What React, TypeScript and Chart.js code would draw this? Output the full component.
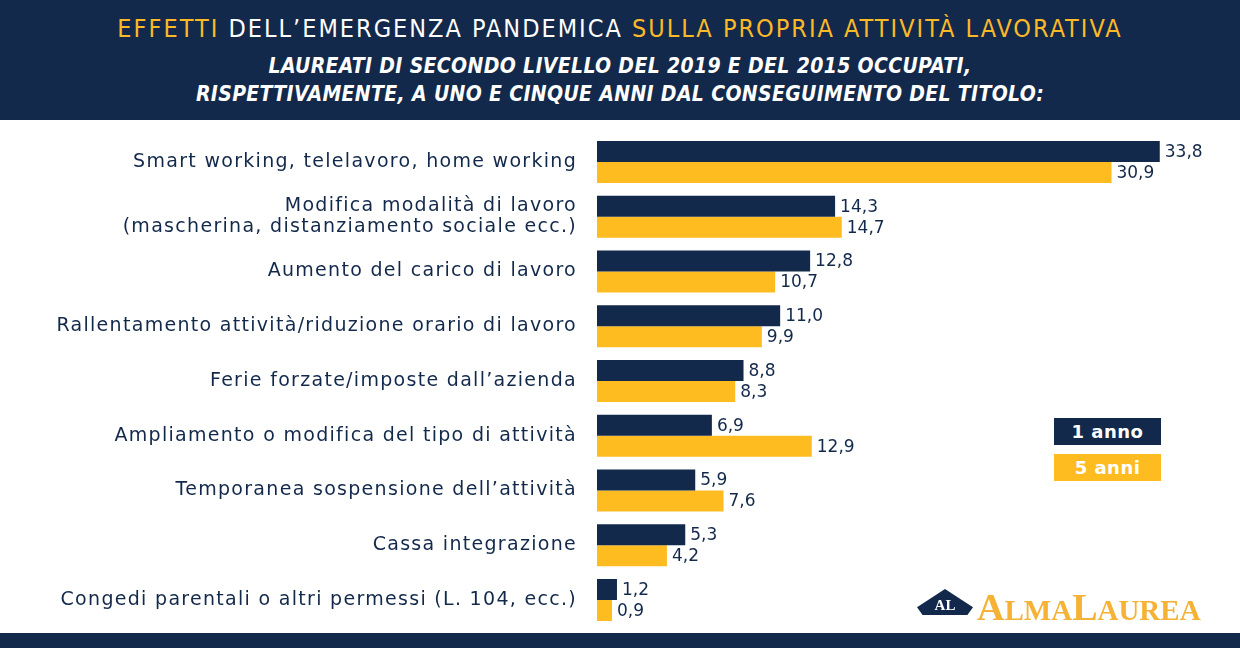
import React, { useEffect, useRef } from "react";
import { Chart, registerables } from "chart.js";

Chart.register(...registerables);

const categories: (string | string[])[] = [
  "Smart working, telelavoro, home working",
  ["Modifica modalità di lavoro", "(mascherina, distanziamento sociale ecc.)"],
  "Aumento del carico di lavoro",
  "Rallentamento attività/riduzione orario di lavoro",
  "Ferie forzate/imposte dall’azienda",
  "Ampliamento o modifica del tipo di attività",
  "Temporanea sospensione dell’attività",
  "Cassa integrazione",
  "Congedi parentali o altri permessi (L. 104, ecc.)",
];
const oneYear = [33.8, 14.3, 12.8, 11.0, 8.8, 6.9, 5.9, 5.3, 1.2];
const fiveYears = [30.9, 14.7, 10.7, 9.9, 8.3, 12.9, 7.6, 4.2, 0.9];
const seriesLabels = ["1 anno", "5 anni"];

const NAVY = "#13294b";
const YELLOW = "#febc21";
const TITLE_YELLOW = "#fbb927";
const GOLD = "#f5b234";
const seriesColors = [NAVY, YELLOW];

const valueLabels = {
  id: "valueLabels",
  beforeDraw(chart: any) {
    chart.ctx.letterSpacing = "1.3px";
  },
  afterDatasetsDraw(chart: any) {
    const ctx = chart.ctx;
    ctx.save();
    ctx.letterSpacing = "0px";
    ctx.font = "17px 'DejaVu Sans'";
    ctx.fillStyle = NAVY;
    ctx.textAlign = "left";
    ctx.textBaseline = "middle";
    chart.data.datasets.forEach((ds: any, di: number) => {
      const meta = chart.getDatasetMeta(di);
      meta.data.forEach((bar: any, i: number) => {
        const v = ds.data[i] as number;
        ctx.fillText(v.toFixed(1).replace(".", ","), bar.x + 5, bar.y + 1);
      });
    });
    ctx.restore();
  },
};

export default function App() {
  const canvasRef = useRef<HTMLCanvasElement>(null);

  useEffect(() => {
    const chart = new Chart(canvasRef.current!, {
      type: "bar",
      data: {
        labels: categories as any,
        datasets: [
          { label: seriesLabels[0], data: oneYear, backgroundColor: seriesColors[0] },
          { label: seriesLabels[1], data: fiveYears, backgroundColor: seriesColors[1] },
        ],
      },
      options: {
        indexAxis: "y",
        responsive: false,
        animation: false,
        maintainAspectRatio: false,
        layout: { padding: { top: 14.6, bottom: 5.6, left: 0, right: 43.6 } },
        datasets: { bar: { categoryPercentage: 0.77, barPercentage: 1 } } as any,
        plugins: {
          legend: { display: false },
          tooltip: { enabled: false },
          title: { display: false },
        },
        scales: {
          x: { display: false, min: 0, max: 36 },
          y: {
            grid: { display: false, drawTicks: false },
            border: { display: false },
            afterFit: (scale: any) => {
              scale.width = 597;
              scale.paddingTop = 0;
              scale.paddingBottom = 0;
            },
            ticks: {
              padding: 20,
              color: NAVY,
              font: { family: "'DejaVu Sans'", size: 19, lineHeight: 1.1 },
            },
          },
        },
      },
      plugins: [valueLabels],
    });
    return () => chart.destroy();
  }, []);

  const legendBox = (i: number, top: number) => (
    <div
      style={{
        position: "absolute",
        left: 1054,
        top,
        width: 107,
        height: 27,
        background: seriesColors[i],
        color: "#ffffff",
        fontFamily: "'DejaVu Sans'",
        fontWeight: "bold",
        fontSize: 18,
        lineHeight: "27px",
        textAlign: "center",
        letterSpacing: "0.5px",
      }}
    >
      {seriesLabels[i]}
    </div>
  );

  return (
    <div
      style={{
        position: "absolute",
        left: 0,
        top: 0,
        width: 1240,
        height: 648,
        background: "#ffffff",
        overflow: "hidden",
      }}
    >
      <div
        style={{
          position: "absolute",
          left: 0,
          top: 0,
          width: 1240,
          height: 120,
          background: NAVY,
        }}
      >
        <div
          style={{
            position: "absolute",
            left: 0,
            top: 14,
            width: 1240,
            textAlign: "center",
            fontFamily: "'DejaVu Sans Condensed', 'DejaVu Sans'",
            fontStretch: "condensed",
            fontSize: 25,
            lineHeight: "30px",
            letterSpacing: "2px",
            color: "#ffffff",
            whiteSpace: "nowrap",
          }}
        >
          <span style={{ color: TITLE_YELLOW }}>EFFETTI</span> DELL’EMERGENZA PANDEMICA{" "}
          <span style={{ color: TITLE_YELLOW }}>SULLA PROPRIA ATTIVITÀ LAVORATIVA</span>
        </div>
        <div
          style={{
            position: "absolute",
            left: 0,
            top: 52,
            width: 1240,
            textAlign: "center",
            fontFamily: "'DejaVu Sans Condensed', 'DejaVu Sans'",
            fontStretch: "condensed",
            fontStyle: "italic",
            fontWeight: "bold",
            fontSize: 21,
            lineHeight: "28px",
            letterSpacing: "0.35px",
            color: "#ffffff",
            whiteSpace: "nowrap",
          }}
        >
          LAUREATI DI SECONDO LIVELLO DEL 2019 E DEL 2015 OCCUPATI,
          <br />
          RISPETTIVAMENTE, A UNO E CINQUE ANNI DAL CONSEGUIMENTO DEL TITOLO:
        </div>
      </div>

      <canvas
        ref={canvasRef}
        width={1240}
        height={513}
        style={{ position: "absolute", left: 0, top: 120, width: 1240, height: 513 }}
      />

      {legendBox(0, 418)}
      {legendBox(1, 454)}

      {/* logo */}
      <div
        style={{
          position: "absolute",
          left: 917,
          top: 589,
          width: 56,
          height: 26,
          background: NAVY,
          clipPath: "polygon(50% 0%, 100% 70%, 90% 100%, 10% 100%, 0% 70%)",
        }}
      />
      <div
        style={{
          position: "absolute",
          left: 917,
          top: 597,
          width: 56,
          textAlign: "center",
          color: "#ffffff",
          fontFamily: "'Liberation Serif', serif",
          fontWeight: "bold",
          fontSize: 15,
          lineHeight: "16px",
        }}
      >
        AL
      </div>
      <div
        style={{
          position: "absolute",
          left: 977,
          top: 587,
          color: GOLD,
          fontFamily: "'Liberation Serif', serif",
          fontWeight: "bold",
          lineHeight: "40px",
          whiteSpace: "nowrap",
          letterSpacing: "0px",
        }}
      >
        <span style={{ fontSize: 38 }}>A</span>
        <span style={{ fontSize: 29 }}>LMA</span>
        <span style={{ fontSize: 38 }}>L</span>
        <span style={{ fontSize: 29 }}>AUREA</span>
      </div>

      <div
        style={{
          position: "absolute",
          left: 0,
          top: 633,
          width: 1240,
          height: 15,
          background: NAVY,
        }}
      />
    </div>
  );
}
